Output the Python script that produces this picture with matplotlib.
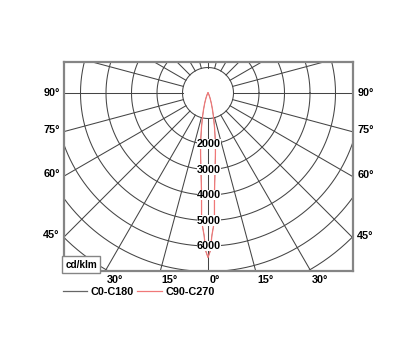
import matplotlib
matplotlib.use("Agg")
import matplotlib.pyplot as plt
import numpy as np

plt.rcParams['font.family'] = ['Liberation Sans', 'DejaVu Sans']
plt.rcParams['font.weight'] = 'bold'

# luminous intensity, cd/klm, half curve (symmetric)
gamma_deg = [0, 0.8, 1.6, 2.2, 2.9, 3.7, 4.5, 5.3, 6.8, 8.5, 10.8, 13, 15, 18, 22, 28, 35, 45]
c90_c270 = [6450, 6200, 5570, 5300, 4990, 3930, 3400, 2990, 2450, 1980, 1360, 950, 690, 420, 210, 80, 30, 0]
c0_c180 = [6450, 6200, 5570, 5300, 4990, 3930, 3400, 2990, 2450, 1980, 1360, 950, 690, 420, 210, 80, 30, 0]

ring_values = [1000, 2000, 3000, 4000, 5000, 6000, 7000, 8000, 9000]
ring_labels = [2000, 3000, 4000, 5000, 6000]
side_angles = [90, 75, 60, 45]
bottom_angles = [-30, -15, 0, 15, 30]

GRID = '#454545'
FRAME = '#858585'
RED = '#f07878'
FS = 7.8

fig = plt.figure(figsize=(4.16, 3.41), dpi=100)
ax = fig.add_axes([64 / 416, 70 / 341, 289 / 416, 209 / 341])
xl, xr, yb, yt = -5647, 5686, -6980, 1216
ax.set_xlim(xl, xr)
ax.set_ylim(yb, yt)
ax.set_xticks([])
ax.set_yticks([])
for s in ax.spines.values():
    s.set_color(FRAME)
    s.set_linewidth(1.6)

t = np.linspace(0, 2 * np.pi, 720)
for r in ring_values:
    ax.plot(r * np.cos(t), r * np.sin(t), color=GRID, lw=0.75, zorder=1)

for a in range(0, 360, 15):
    ar = np.radians(a)
    ax.plot([1000 * np.sin(ar), 12000 * np.sin(ar)],
            [-1000 * np.cos(ar), -12000 * np.cos(ar)], color=GRID, lw=0.75, zorder=1)


def curve(vals):
    g = np.radians(np.array(gamma_deg))
    v = np.array(vals)
    g = np.concatenate([-g[::-1], g[1:]])
    v = np.concatenate([v[::-1], v[1:]])
    return v * np.sin(g), -v * np.cos(g)


x0, y0 = curve(c0_c180)
ax.plot(x0, y0, color='#666666', lw=0.4, zorder=2, label='C0-C180')
x1, y1 = curve(c90_c270)
ax.plot(x1, y1, color=RED, lw=0.9, zorder=3, label='C90-C270')

for v in ring_labels:
    ax.text(40, -v, str(v), ha='center', va='center', fontsize=FS, zorder=5,
            bbox=dict(facecolor='white', edgecolor='none', pad=0.2))

for a in side_angles:
    ar = np.radians(a)
    y = xl * np.cos(ar) / np.sin(ar)
    ax.annotate(f'{a}°', (xl, y), xytext=(-3, 1.5 if a != 90 else 0), textcoords='offset points',
                ha='right', va='center', fontsize=FS, annotation_clip=False)
    y = -xr * np.cos(ar) / np.sin(ar)
    ax.annotate(f'{a}°', (xr, y), xytext=(3, 1.5 if a != 90 else 0), textcoords='offset points',
                ha='left', va='center', fontsize=FS, annotation_clip=False)

for a in bottom_angles:
    x = -yb * np.tan(np.radians(a))
    ax.annotate(f'{abs(a)}°', (x, yb), xytext=(1, -3), textcoords='offset points',
                ha='left', va='top', fontsize=FS, annotation_clip=False)

ax.text(0.005, 0.006, 'cd/klm', transform=ax.transAxes, ha='left', va='bottom', fontsize=7.2,
        zorder=6, bbox=dict(facecolor='white', edgecolor=FRAME, lw=1.0, pad=2.4))

leg = ax.legend(loc='upper left', bbox_to_anchor=(-0.005, -0.075), ncol=2, frameon=False,
                fontsize=FS, handlelength=2.3, handletextpad=0.3, columnspacing=0.3,
                borderpad=0, borderaxespad=0)
leg.get_lines()[0].set_linewidth(0.9)

fig.savefig('out.png', dpi=100)
